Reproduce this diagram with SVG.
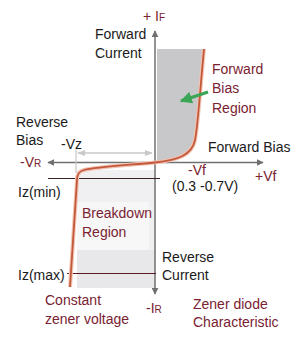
<svg xmlns="http://www.w3.org/2000/svg" width="298" height="337" viewBox="0 0 298 337">
<defs>
<style>
text{font-family:"Liberation Sans",Arial,sans-serif;font-size:14px}
.k{fill:#1a1a1a}
.r{fill:#7a2232}
.s{font-size:10px}
.ax{stroke:#707070;stroke-width:1.5;fill:none}
</style>
<marker id="ah" viewBox="0 0 10 10" refX="9" refY="5" markerWidth="7" markerHeight="7" orient="auto-start-reverse" markerUnits="userSpaceOnUse">
<path d="M0,0 L10,5 L0,10 Z" fill="#707070"/>
</marker>
<marker id="lh" viewBox="0 0 10 10" refX="9" refY="5" markerWidth="8" markerHeight="8" orient="auto-start-reverse" markerUnits="userSpaceOnUse">
<path d="M0,1 L10,5 L0,9 Z" fill="#c8c8c8"/>
</marker>
<marker id="gh" viewBox="0 0 10 10" refX="9" refY="5" markerWidth="12" markerHeight="12" orient="auto" markerUnits="userSpaceOnUse">
<path d="M0,0 L10,5 L0,10 Z" fill="#3aa655"/>
</marker>
</defs>
<g id="regions">
<path d="M157,49 L204,49 C200,90 198,125 195,140 C192,155 178,160 157,161 Z" fill="#c8c8ca"/>
<rect x="77" y="170" width="78" height="80" fill="#f0f0f2"/>
<rect x="77" y="202" width="72" height="48" fill="#f7f7f8"/>
<rect x="77" y="250" width="78" height="38" fill="#e8e8ea"/>
</g>
<g id="connectors">
<line class="ax" x1="155" y1="294" x2="155" y2="31" marker-start="url(#ah)" marker-end="url(#ah)"/>
<line class="ax" x1="48" y1="162.5" x2="263" y2="162.5" marker-start="url(#ah)" marker-end="url(#ah)"/>
<line x1="76" y1="149" x2="76" y2="173" stroke="#c8c8c8" stroke-width="1.2"/>
<line x1="78" y1="153" x2="152" y2="153" stroke="#c8c8c8" stroke-width="1.5" marker-start="url(#lh)" marker-end="url(#lh)"/>
<line x1="48" y1="178.5" x2="160" y2="178.5" stroke="#3a2525" stroke-width="1.2"/>
<line x1="67" y1="273.5" x2="156" y2="273.5" stroke="#5a1a22" stroke-width="1.2"/>
<path d="M204,49 C200,90 198,125 195,140 C192,155 178,160 155,162.5 C130,165 95,167 84,170 C78,171.5 77,175 77,180 L70,287" fill="none" stroke="#f2c4b4" stroke-width="4"/>
<path d="M204,49 C200,90 198,125 195,140 C192,155 178,160 155,162.5 C130,165 95,167 84,170 C78,171.5 77,175 77,180 L70,287" fill="none" stroke="#c4583a" stroke-width="1.8"/>
<line x1="208" y1="92" x2="181" y2="101" stroke="#3aa655" stroke-width="3" marker-end="url(#gh)"/>
</g>
<g id="labels">
<text class="r" x="143" y="21">+ I<tspan class="s">F</tspan></text>
<text class="k" x="95" y="39">Forward</text>
<text class="k" x="95" y="58">Current</text>
<text class="r" x="212" y="74">Forward</text>
<text class="r" x="212" y="93">Bias</text>
<text class="r" x="212" y="113">Region</text>
<text class="k" x="16" y="127">Reverse</text>
<text class="k" x="16" y="145">Bias</text>
<text class="k" x="61" y="149">-Vz</text>
<text class="k" x="208" y="152">Forward Bias</text>
<text class="r" x="20" y="167">-V<tspan class="s">R</tspan></text>
<text class="r" x="188" y="175">-Vf</text>
<text class="r" x="255" y="181">+Vf</text>
<text class="k" x="172" y="191">(0.3 -0.7V)</text>
<text class="k" x="18" y="197">Iz(min)</text>
<text class="r" x="82" y="218">Breakdown</text>
<text class="r" x="82" y="237">Region</text>
<text class="k" x="162" y="262">Reverse</text>
<text class="k" x="162" y="280">Current</text>
<text class="k" x="18" y="280">Iz(max)</text>
<text class="r" x="45" y="305">Constant</text>
<text class="r" x="45" y="324">zener voltage</text>
<text class="r" x="146" y="313">-I<tspan class="s">R</tspan></text>
<text class="r" x="193" y="309">Zener diode</text>
<text class="r" x="193" y="327">Characteristic</text>
</g>
</svg>
